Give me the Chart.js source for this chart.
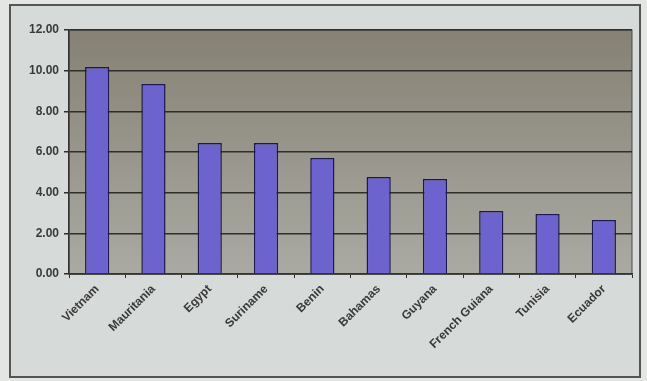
<!DOCTYPE html>
<html>
<head>
<meta charset="utf-8">
<script src="https://cdn.jsdelivr.net/npm/chart.js@4"></script>
<style>
  html, body { margin: 0; padding: 0; background: #e4e6e4; }
  #wrap { position: relative; width: 647px; height: 381px; }
</style>
</head>
<body>
<div id="wrap"><canvas id="chart" width="647" height="381"></canvas></div>
<script>
const countries = ["Vietnam", "Mauritania", "Egypt", "Suriname", "Benin", "Bahamas", "Guyana", "French Guiana", "Tunisia", "Ecuador"];
const values = [10.18, 9.35, 6.44, 6.44, 5.7, 4.77, 4.67, 3.1, 2.95, 2.66];
const yTicks = [0, 2, 4, 6, 8, 10, 12];

// 바깥 틀 + 회색 플롯 영역
const backdrop = {
  id: "backdrop",
  beforeDraw(chart) {
    const ctx = chart.ctx;
    const a = chart.chartArea;
    ctx.save();
    ctx.fillStyle = "#d6dad9";
    ctx.fillRect(10, 5, 630, 372);
    ctx.strokeStyle = "#555";
    ctx.lineWidth = 2;
    ctx.strokeRect(10, 5, 630, 372);
    const g = ctx.createLinearGradient(0, a.top, 0, a.bottom);
    g.addColorStop(0, "#868174");
    g.addColorStop(1, "#aaaaa3");
    ctx.fillStyle = g;
    ctx.fillRect(a.left, a.top, a.right - a.left, a.bottom - a.top);
    ctx.strokeStyle = "#4a4a44";
    ctx.lineWidth = 1;
    ctx.strokeRect(a.left, a.top, a.right - a.left, a.bottom - a.top);
    ctx.restore();
  }
};

new Chart(document.getElementById("chart").getContext("2d"), {
  type: "bar",
  data: {
    labels: countries,
    datasets: [{
      data: values,
      backgroundColor: "#6c63cf",
      borderColor: "#1c1a4c",
      borderWidth: 1.5,
      barPercentage: 0.86,
      categoryPercentage: 0.5
    }]
  },
  options: {
    responsive: false,
    animation: false,
    layout: { padding: { top: 30, right: 15, bottom: 7, left: 0 } },
    plugins: { legend: { display: false }, tooltip: { enabled: false } },
    scales: {
      x: {
        afterFit: s => { s.height = 100; },
        grid: { display: true, drawOnChartArea: false, offset: true, color: "#333", tickLength: 4 },
        border: { color: "#333", width: 1.5 },
        ticks: {
          color: "#3a3a3a",
          font: { family: "Liberation Sans", size: 12, weight: "bold" },
          minRotation: 45,
          maxRotation: 45,
          padding: 4
        }
      },
      y: {
        min: 0,
        max: 12,
        afterFit: s => { s.width = 69; },
        afterBuildTicks: s => { s.ticks = yTicks.map(v => ({ value: v })); },
        grid: { color: "#2e2e2a", lineWidth: 1.5, tickLength: 5 },
        border: { color: "#333", width: 1.5 },
        ticks: {
          color: "#3a3a3a",
          font: { family: "Liberation Sans", size: 12, weight: "bold" },
          padding: 5,
          callback: v => v.toFixed(2)
        }
      }
    }
  },
  plugins: [backdrop]
});
</script>
</body>
</html>
